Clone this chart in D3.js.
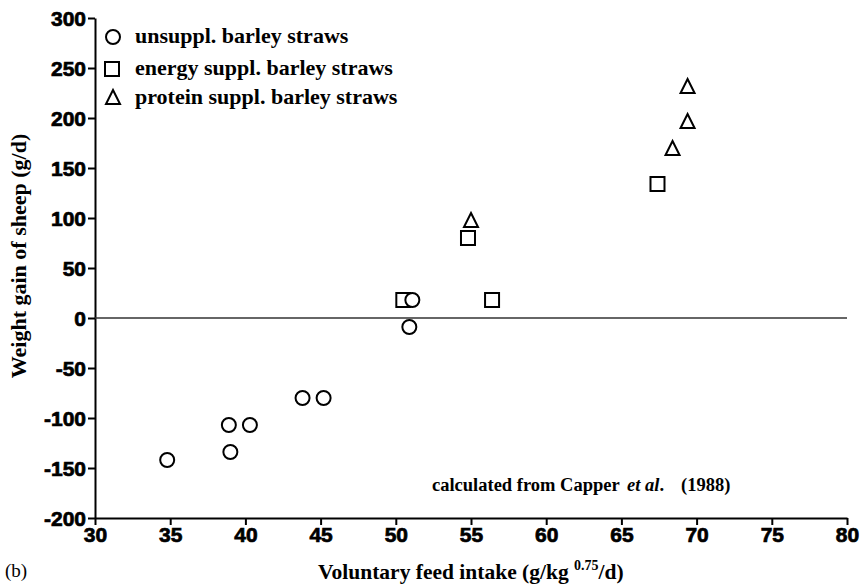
<!DOCTYPE html>
<html>
<head>
<meta charset="utf-8">
<script src="https://cdn.jsdelivr.net/npm/d3@7"></script>
<style>
    body { margin: 0; background: #fff; }
    svg { display: block; }
    .serif { font-family: "Liberation Serif", "Times New Roman", serif; font-weight: bold; fill: #000; }
</style>
</head>
<body>
<div id="chart"></div>
<script>
// unsupplemented barley straws
const unsupplX = [34.8, 38.9, 39.0, 40.3, 43.8, 45.2, 51.1, 50.9];
const unsupplY = [-142, -107, -134, -107, -80, -80, 18, -9];

// energy supplemented
const energyX = [50.5, 54.8, 56.4, 67.4];
const energyY = [18, 80, 18, 134];

// protein supplemented
const proteinX = [55.0, 68.4, 69.4, 69.4];
const proteinY = [97, 169, 196, 231];

const xTicks = [30, 35, 40, 45, 50, 55, 60, 65, 70, 75, 80];
const yTicks = [-200, -150, -100, -50, 0, 50, 100, 150, 200, 250, 300];

const legendLabels = ['unsuppl. barley straws', 'energy suppl. barley straws', 'protein suppl. barley straws'];

const width = 863, height = 586;

let svg = d3.select('#chart').append('svg')
    .attr('width', width)
    .attr('height', height);

let x = d3.scaleLinear().domain([30, 80]).range([95, 847]);
let y = d3.scaleLinear().domain([-200, 300]).range([518, 18]);

// axes
let xAxis = svg.append('g')
    .attr('transform', `translate(0, ${y(-200)})`)
    .call(d3.axisBottom(x).tickValues(xTicks).tickFormat(d => String(d))
        .tickSize(7).tickPadding(2).tickSizeOuter(0));

let yAxis = svg.append('g')
    .attr('transform', `translate(${x(30)}, 0)`)
    .call(d3.axisLeft(y).tickValues(yTicks).tickFormat(d => String(d))
        .tickSize(7).tickPadding(2).tickSizeOuter(0));

[xAxis, yAxis].forEach(a => {
    a.select('.domain').attr('stroke', '#000').attr('stroke-width', 2);
    a.selectAll('.tick line').attr('stroke', '#000').attr('stroke-width', 2);
    a.selectAll('.tick text')
        .attr('fill', '#000')
        .attr('stroke', '#000')
        .attr('stroke-width', 0.7)
        .style('font-family', '"Liberation Sans", Arial, sans-serif')
        .style('font-weight', 'bold')
        .style('font-size', '21px');
});
yAxis.selectAll('.tick text').attr('dy', '0.36em');

// zero line
svg.append('line')
    .attr('x1', x(30)).attr('x2', x(80))
    .attr('y1', y(0)).attr('y2', y(0))
    .attr('stroke', '#333')
    .attr('stroke-width', 1.5);

// markers
const r = 7;
const circlePts = unsupplX.map((d, i) => ({x: d, y: unsupplY[i]}));
const squarePts = energyX.map((d, i) => ({x: d, y: energyY[i]}));
const triPts = proteinX.map((d, i) => ({x: d, y: proteinY[i]}));

let marks = svg.append('g')
    .attr('fill', 'none')
    .attr('stroke', '#000')
    .attr('stroke-width', 2);

marks.selectAll('rect')
    .data(squarePts)
    .join('rect')
        .attr('x', d => x(d.x) - r)
        .attr('y', d => y(d.y) - r)
        .attr('width', 2 * r)
        .attr('height', 2 * r)
        .attr('fill', '#fff');

marks.selectAll('circle')
    .data(circlePts)
    .join('circle')
        .attr('cx', d => x(d.x))
        .attr('cy', d => y(d.y))
        .attr('r', r)
        .attr('fill', '#fff');

const triPath = (cx, cy) => `M${cx},${cy - 8}L${cx + 7},${cy + 6}L${cx - 7},${cy + 6}Z`;

marks.selectAll('path')
    .data(triPts)
    .join('path')
        .attr('d', d => triPath(x(d.x), y(d.y)));

// legend
let legend = svg.append('g');
const legendY = [37, 69, 98];

legend.append('circle')
    .attr('cx', 113).attr('cy', legendY[0]).attr('r', r)
    .attr('fill', 'none').attr('stroke', '#000').attr('stroke-width', 2);
legend.append('rect')
    .attr('x', 112 - r).attr('y', legendY[1] - r).attr('width', 2 * r).attr('height', 2 * r)
    .attr('fill', 'none').attr('stroke', '#000').attr('stroke-width', 2);
legend.append('path')
    .attr('d', triPath(113, legendY[2]))
    .attr('fill', 'none').attr('stroke', '#000').attr('stroke-width', 2);

legend.selectAll('text')
    .data(legendLabels)
    .join('text')
        .attr('class', 'serif')
        .attr('x', 135)
        .attr('y', (d, i) => legendY[i] + 6)
        .style('font-size', '22px')
        .text(d => d);

// axis titles
svg.append('text')
    .attr('class', 'serif')
    .attr('transform', `translate(26, 256) rotate(-90)`)
    .attr('text-anchor', 'middle')
    .style('font-size', '22px')
    .text('Weight gain of sheep (g/d)');

let xTitle = svg.append('text')
    .attr('class', 'serif')
    .attr('x', 318)
    .attr('y', 579)
    .style('font-size', '21.5px');
xTitle.append('tspan').text('Voluntary feed intake (g/kg ');
xTitle.append('tspan').attr('dy', -9).style('font-size', '14px').text('0.75');
xTitle.append('tspan').attr('dy', 9).text('/d)');

svg.append('text')
    .attr('x', 5)
    .attr('y', 577)
    .style('font-family', '"Liberation Serif", serif')
    .style('font-size', '19px')
    .text('(b)');

// source note
let note = svg.append('text')
    .attr('class', 'serif')
    .attr('x', 432)
    .attr('y', 491)
    .style('font-size', '18.5px');
note.append('tspan').text('calculated from Capper');
note.append('tspan').attr('x', 627).style('font-style', 'italic').text('et al');
note.append('tspan').text('.');
note.append('tspan').attr('x', 681).text('(1988)');
</script>
</body>
</html>
